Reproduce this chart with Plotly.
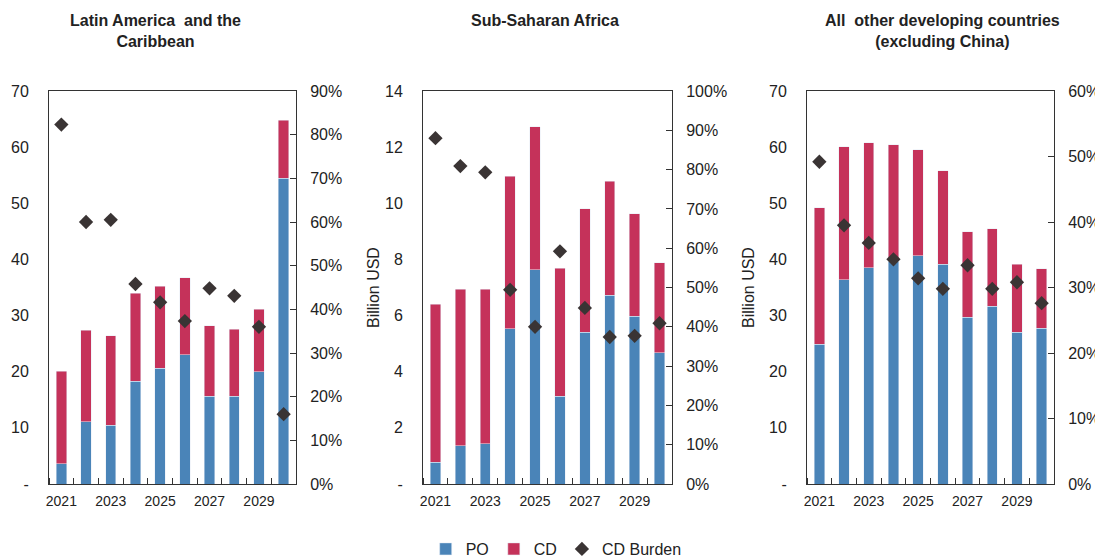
import plotly.graph_objects as go

years = list(range(2021, 2031))

# Latin America and the Caribbean
lac_po = [3.6, 11.1, 10.5, 18.3, 20.6, 23.0, 15.6, 15.6, 20.0, 54.5]
lac_total = [20.1, 27.4, 26.4, 34.0, 35.2, 36.7, 28.2, 27.6, 31.1, 64.8]
lac_burden = [82.3, 60.0, 60.5, 45.8, 41.6, 37.3, 44.8, 43.1, 36.0, 16.0]

# Sub-Saharan Africa
ssa_po = [0.77, 1.36, 1.43, 5.53, 7.63, 3.12, 5.40, 6.72, 5.97, 4.67]
ssa_total = [6.40, 6.94, 6.94, 10.96, 12.73, 7.68, 9.81, 10.79, 9.63, 7.89]
ssa_burden = [88.0, 80.9, 79.3, 49.4, 40.0, 59.2, 44.8, 37.4, 37.7, 40.9]

# All other developing countries (excluding China)
oth_po = [24.9, 36.4, 38.5, 39.7, 40.7, 39.1, 29.7, 31.7, 27.0, 27.7]
oth_total = [49.2, 60.1, 60.8, 60.4, 59.5, 55.8, 44.9, 45.5, 39.1, 38.3]
oth_burden = [49.2, 39.5, 36.8, 34.3, 31.4, 29.8, 33.4, 29.8, 30.8, 27.6]

lac_cd = [round(t - p, 2) for t, p in zip(lac_total, lac_po)]
ssa_cd = [round(t - p, 2) for t, p in zip(ssa_total, ssa_po)]
oth_cd = [round(t - p, 2) for t, p in zip(oth_total, oth_po)]

titles = ["<b>Latin America  and the<br>Caribbean</b>",
          "<b>Sub-Saharan Africa</b>",
          "<b>All  other developing countries<br>(excluding China)</b>"]
left_ranges = [70, 14, 70]
left_dticks = [10, 2, 10]
right_ranges = [90, 100, 60]
x_tick_years = [2021, 2023, 2025, 2027, 2029]

PO_COLOR = "#4A84B8"
CD_COLOR = "#C5325A"
DIAMOND_COLOR = "#3A3434"
LINE_COLOR = "#333333"
TEXT_COLOR = "#222222"
FONT = "Liberation Sans, Arial, sans-serif"

W, H = 1103, 558
OFF = 8  # page body margin offset
plot_x = [(49 - OFF, 296 - OFF), (423 - OFF, 672 - OFF), (807 - OFF, 1054 - OFF)]
plot_y = (91 - OFF, 484 - OFF)
ydom = [(H - plot_y[1]) / H, (H - plot_y[0]) / H]

panels = [(lac_po, lac_cd, lac_burden), (ssa_po, ssa_cd, ssa_burden), (oth_po, oth_cd, oth_burden)]

fig = go.Figure()
layout = {}
for i, (po, cd, burden) in enumerate(panels):
    xn = "x" if i == 0 else f"x{i+1}"
    yl = "y" if i == 0 else f"y{2*i+1}"
    yr = f"y{2*i+2}"
    fig.add_trace(go.Bar(x=years, y=po, name="PO", marker_color=PO_COLOR, width=0.42,
                         xaxis=xn, yaxis=yl, showlegend=(i == 0), legendgroup="PO"))
    fig.add_trace(go.Bar(x=years, y=cd, name="CD", marker_color=CD_COLOR, width=0.42,
                         xaxis=xn, yaxis=yl, showlegend=(i == 0), legendgroup="CD"))
    fig.add_trace(go.Scatter(x=years, y=burden, name="CD Burden", mode="markers",
                             marker=dict(symbol="diamond", size=11, color=DIAMOND_COLOR),
                             xaxis=xn, yaxis=yr, showlegend=(i == 0), legendgroup="B"))

    xk = "xaxis" if i == 0 else f"xaxis{i+1}"
    ylk = "yaxis" if i == 0 else f"yaxis{2*i+1}"
    yrk = f"yaxis{2*i+2}"
    x0, x1 = plot_x[i]
    layout[xk] = dict(
        domain=[x0 / W, x1 / W], anchor=yl, range=[2020.5, 2030.5], automargin=False,
        tickmode="array", tickvals=x_tick_years, ticktext=[str(v) for v in x_tick_years],
        ticks="", showline=True, linecolor=LINE_COLOR, linewidth=1, mirror=True,
        showgrid=False, zeroline=False, ticklabelstandoff=4,
        tickfont=dict(size=14, color=TEXT_COLOR, family=FONT),
        minor=dict(tick0=2020.5, dtick=1, ticks="inside", ticklen=6,
                   tickcolor=LINE_COLOR, tickwidth=1, showgrid=False),
    )
    lv = list(range(0, left_ranges[i] + 1, left_dticks[i]))
    layout[ylk] = dict(
        domain=ydom, anchor=xn, range=[0, left_ranges[i]], automargin=False,
        tickmode="array", tickvals=lv, ticktext=["-"] + [str(v) for v in lv[1:]],
        ticks="outside", ticklen=16, tickcolor="rgba(0,0,0,0)",
        showline=True, linecolor=LINE_COLOR, linewidth=1,
        showgrid=False, zeroline=False,
        tickfont=dict(size=16, color=TEXT_COLOR, family=FONT),
    )
    rv = list(range(0, right_ranges[i] + 1, 10))
    layout[yrk] = dict(
        overlaying=yl, side="right", anchor=xn, range=[0, right_ranges[i]], automargin=False,
        tickmode="array", tickvals=rv, ticktext=[f"{v}%" for v in rv],
        ticks="inside", ticklen=6, tickcolor=LINE_COLOR,
        showline=True, linecolor=LINE_COLOR, linewidth=1,
        showgrid=False, zeroline=False, ticklabelstandoff=10,
        tickfont=dict(size=16, color=TEXT_COLOR, family=FONT),
    )

annotations = []
title_x = [155 - OFF, 545 - OFF, 942 - OFF]
for i, t in enumerate(titles):
    annotations.append(dict(text=t, x=title_x[i] / W, y=1 - 2 / H, xref="paper", yref="paper",
                            xanchor="center", yanchor="top", showarrow=False,
                            font=dict(size=16, color=TEXT_COLOR, family=FONT)))
for xc in [373 - OFF, 748 - OFF]:
    annotations.append(dict(text="Billion USD", x=xc / W, y=(H - (288 - OFF)) / H,
                            xref="paper", yref="paper",
                            xanchor="center", yanchor="middle", textangle=-90, showarrow=False,
                            font=dict(size=16, color=TEXT_COLOR, family=FONT)))

fig.update_layout(
    width=W, height=H, barmode="stack", bargap=0.58,
    margin=dict(l=0, r=0, t=0, b=0, autoexpand=False),
    paper_bgcolor="white", plot_bgcolor="white",
    font=dict(family=FONT, color=TEXT_COLOR, size=16),
    legend=dict(orientation="h", x=0.497, xanchor="center", y=0.0, yanchor="bottom",
                font=dict(size=16, color=TEXT_COLOR, family=FONT), itemwidth=30,
                traceorder="normal", bgcolor="rgba(0,0,0,0)"),
    annotations=annotations,
    **layout,
)

fig.write_html("out.html")
